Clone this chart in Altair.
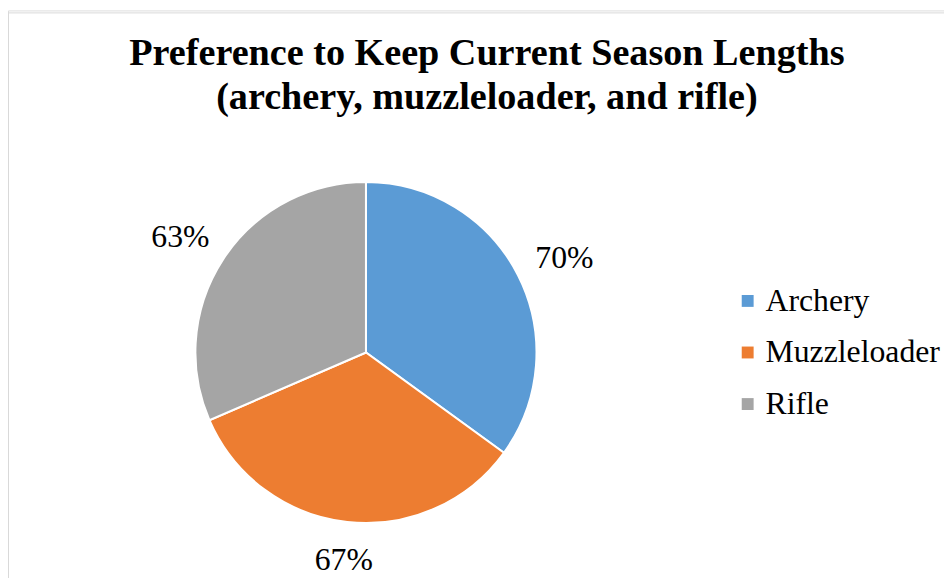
import altair as alt
import pandas as pd

categories = ["Archery", "Muzzleloader", "Rifle"]
values = [70, 67, 63]
labels = ["70%", "67%", "63%"]
colors = ["#5B9BD5", "#ED7D31", "#A5A5A5"]
title_lines = ["Preference to Keep Current Season Lengths",
               "(archery, muzzleloader, and rifle)"]

df = pd.DataFrame({"cat": categories, "value": values, "label": labels})

FONT = "Liberation Serif"
# page margin is 8px; view origin sits at page (8, 8)
CX, CY = 361, 345
R = 172

base = alt.Chart(df)

pie = base.mark_arc(outerRadius=R, stroke="white", strokeWidth=2).encode(
    theta=alt.Theta("value:Q", stack=True),
    color=alt.Color(
        "cat:N",
        scale=alt.Scale(domain=categories, range=colors),
        legend=alt.Legend(
            title=None, orient="none", legendX=730, legendY=277,
            symbolType="square", symbolSize=144, symbolStrokeWidth=0,
            labelFont=FONT, labelFontSize=32, labelColor="black",
            labelOffset=2, rowPadding=20, padding=0, labelLimit=0,
        ),
    ),
    order=alt.Order("cat:N"),
    x=alt.value(CX), y=alt.value(CY),
)

# label angle = slice mid-angle; distance: just outside the rim,
# pushed out by half the text box in that direction
pie_text = base.transform_joinaggregate(
    total="sum(value)"
).transform_window(
    cum="sum(value)", sort=[alt.SortField("cat")]
).transform_calculate(
    mid="(datum.cum - datum.value / 2) / datum.total * 2 * PI",
    lr=f"{R} + 16 + 35 * abs(sin(datum.mid)) + 12 * abs(cos(datum.mid))",
).mark_text(
    font=FONT, fontSize=32, color="black",
    align="center", baseline="middle", dy=7,
).encode(
    theta=alt.Theta("mid:Q", scale=None),
    radius=alt.Radius("lr:Q", scale=None),
    text="label:N",
    x=alt.value(CX), y=alt.value(CY),
)

t1 = alt.Chart(pd.DataFrame({"t": [title_lines[0]]})).mark_text(
    font=FONT, fontSize=38.5, fontWeight="bold", color="black",
    align="center", baseline="alphabetic",
).encode(text="t:N", x=alt.value(483), y=alt.value(55))

t2 = alt.Chart(pd.DataFrame({"t": [title_lines[1]]})).mark_text(
    font=FONT, fontSize=38.5, fontWeight="bold", color="black",
    align="center", baseline="alphabetic",
).encode(text="t:N", x=alt.value(483), y=alt.value(99))

border = alt.Chart(pd.DataFrame({"a": [0]})).mark_rect(
    fill="white", stroke="#d9d9d9", strokeWidth=1,
).encode(x=alt.value(0.5), y=alt.value(2.5), x2=alt.value(1200), y2=alt.value(1000))

chart = alt.layer(border, pie, pie_text, t1, t2).properties(
    width=944, height=570,
    autosize=alt.AutoSizeParams(type="none"),
    padding=0,
).configure_view(stroke=None).configure(background="white")

chart.save("out.html", embed_options={"renderer": "svg", "actions": False})
